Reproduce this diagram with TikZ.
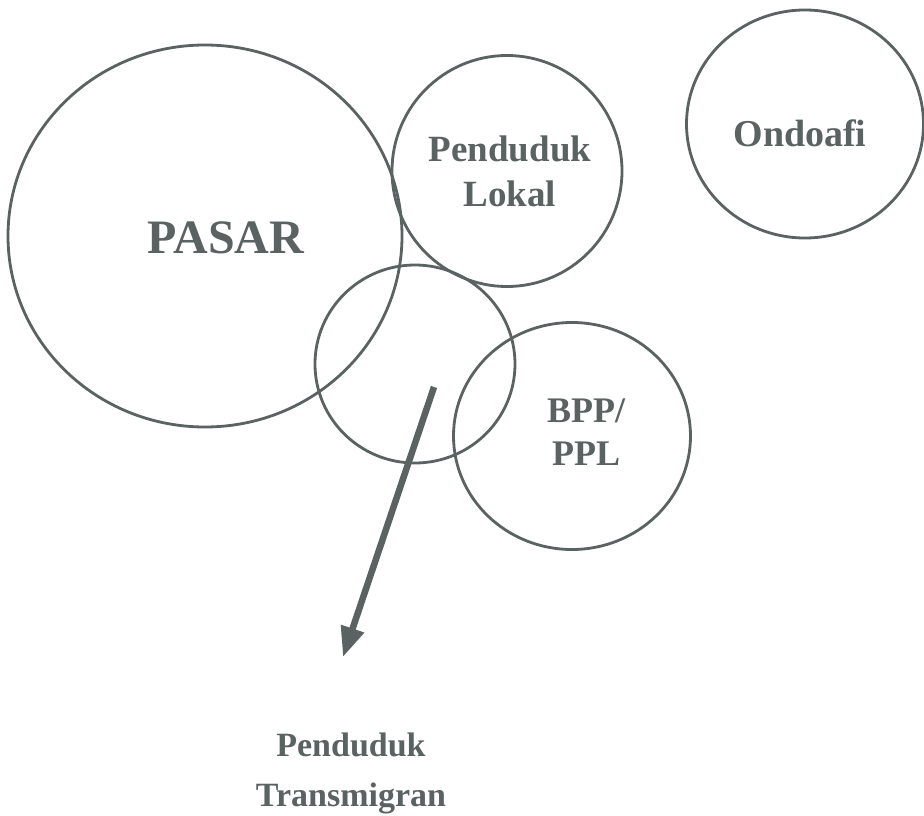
\documentclass[tikz,border=0pt]{standalone}
\usepackage{fontspec}
\setmainfont{Liberation Serif}
\usetikzlibrary{shapes.geometric,arrows.meta}
\definecolor{ink}{HTML}{5A6262}
\begin{document}
\begin{tikzpicture}[x=1pt,y=-1pt,
  ring/.style={draw=ink, line width=2.8pt, ellipse, inner sep=0pt},
  lbl/.style={text=ink, font=\bfseries, align=center, inner sep=0pt},
  flow/.style={draw=ink, line width=6.5pt,
    -{Triangle[length=30pt,width=23pt]}, shorten >=0pt}]
  \useasboundingbox (0,0) rectangle (924,816);
  \fill[white] (0,0) rectangle (924,816);

  % circles
  \node[ring, minimum width=394pt, minimum height=382pt] (pasar) at (205,236) {};
  \node[ring, minimum width=230pt, minimum height=231pt] (lokal) at (507,171) {};
  \node[ring, minimum width=237pt, minimum height=228pt] (ondoafi) at (805,124) {};
  \node[ring, minimum width=200pt, minimum height=198pt] (mid) at (415,364) {};
  \node[ring, minimum width=237pt, minimum height=227pt] (bpp) at (572,436) {};

  % labels
  \node[lbl, font=\bfseries\fontsize{48}{48}\selectfont] (tpasar) at (226,238) {PASAR};
  \node[lbl, font=\bfseries\fontsize{37}{45}\selectfont] (tlokal) at (510,171) {Penduduk\\Lokal};
  \node[lbl, font=\bfseries\fontsize{38}{45}\selectfont] (tondo) at (800,133) {Ondoafi};
  \node[lbl, font=\bfseries\fontsize{36}{43}\selectfont] (tbpp) at (586,432) {BPP/\\PPL};
  \node[lbl, font=\bfseries\fontsize{34}{50}\selectfont] (ttrans) at (351,773) {Penduduk\\Transmigran};

  % arrow toward the transmigrant population
  \coordinate (astart) at (434,387);
  \coordinate (aend) at (343,657);
  \draw[flow] (astart) -- (aend);
\end{tikzpicture}
\end{document}
